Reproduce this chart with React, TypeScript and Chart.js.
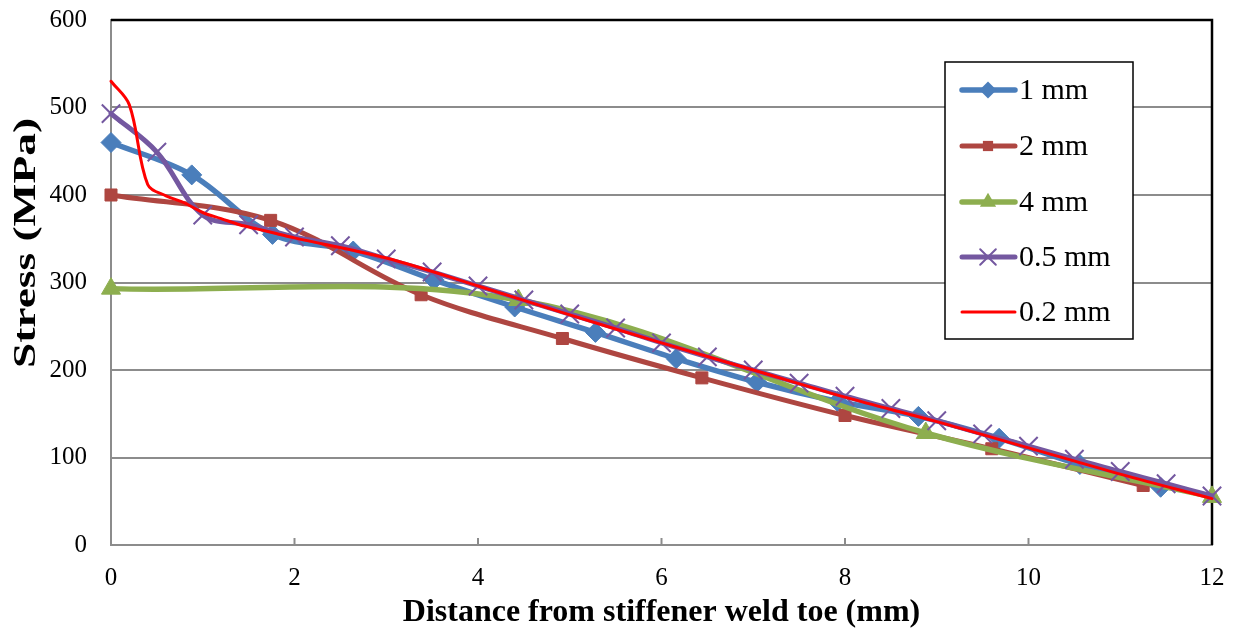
import React, { useEffect, useRef } from 'react';
import { Chart, registerables } from 'chart.js';
Chart.register(...registerables);

// ---- data ----
const x1mm = [0, 0.88, 1.76, 2.64, 3.52, 4.4, 5.28, 6.16, 7.04, 7.92, 8.8, 9.68, 10.56, 11.44];
const y1mm = [460, 423, 355, 336, 303, 272, 243, 213, 186, 164, 147, 122, 92, 66];

const x2mm = [0, 1.74, 3.38, 4.92, 6.44, 8.0, 9.6, 11.25];
const y2mm = [400, 371, 286, 236, 191, 148, 110, 68];

const x4mm = [0, 4.44, 8.88, 12];
const y4mm = [293, 280, 128, 55];

const x05mm = [0, 0.5, 1, 1.5, 2, 2.5, 3, 3.5, 4, 4.5, 5, 5.5, 6, 6.5, 7, 7.5, 8, 8.5, 9, 9.5, 10, 10.5, 11, 11.5, 12];
const y05mm = [493, 449, 377, 366, 352, 342, 327, 312, 296, 280, 264, 248, 231, 215, 200, 185, 170, 156, 142, 127, 113, 98, 84, 70, 56];

const x02mm = [0, 0.2, 0.4, 0.6, 0.8, 1.0, 1.2, 1.4, 1.6, 1.8, 2, 3, 4, 5, 6, 7, 8, 9, 10, 11, 12];
const y02mm = [530, 503, 412, 399, 391, 380, 373, 366, 361, 356, 351, 328, 296, 263, 231, 200, 169, 141, 111, 81, 53];

const seriesLabels = ['1 mm', '2 mm', '4 mm', '0.5 mm', '0.2 mm'];
const xTicks = [0, 2, 4, 6, 8, 10, 12];

const xTitle = 'Distance from stiffener weld toe (mm)';
const yTitle = 'Stress (MPa)';

const FONT = "'Liberation Serif', 'Times New Roman', serif";
const BLUE = '#4A7EBB';
const BROWN = '#AE4641';
const GREEN = '#8DAE4F';
const PURPLE = '#7458A0';
const RED = '#FF0000';
const GRID = '#8C8C8C';

const toPts = (xs: number[], ys: number[]) => xs.map((x, i) => ({ x, y: ys[i] }));

function drawMarker(ctx: CanvasRenderingContext2D, style: string, x: number, y: number, r: number, color: string) {
  ctx.save();
  ctx.fillStyle = color;
  ctx.strokeStyle = color;
  ctx.beginPath();
  if (style === 'rectRot') {
    ctx.moveTo(x, y - r); ctx.lineTo(x + r, y); ctx.lineTo(x, y + r); ctx.lineTo(x - r, y); ctx.closePath(); ctx.fill();
  } else if (style === 'rect') {
    const s = r * Math.SQRT1_2;
    ctx.rect(x - s, y - s, 2 * s, 2 * s); ctx.fill();
  } else if (style === 'triangle') {
    ctx.moveTo(x, y - r);
    ctx.lineTo(x + r * Math.cos(Math.PI / 6), y + r * 0.5);
    ctx.lineTo(x - r * Math.cos(Math.PI / 6), y + r * 0.5);
    ctx.closePath(); ctx.fill();
  } else if (style === 'crossRot') {
    const s = r * Math.SQRT1_2;
    ctx.lineWidth = 2;
    ctx.moveTo(x - s, y - s); ctx.lineTo(x + s, y + s);
    ctx.moveTo(x - s, y + s); ctx.lineTo(x + s, y - s);
    ctx.stroke();
  }
  ctx.restore();
}

const decorPlugin = {
  id: 'decor',
  beforeDatasetsDraw(chart: any) {
    const { ctx, chartArea: a, scales } = chart;
    ctx.save();
    ctx.strokeStyle = GRID;
    ctx.lineWidth = 2;
    xTicks.forEach((t) => {
      if (t === 0 || t === 12) return;
      const px = scales.x.getPixelForValue(t);
      ctx.beginPath(); ctx.moveTo(px, a.bottom); ctx.lineTo(px, a.bottom - 7); ctx.stroke();
    });
    ctx.strokeStyle = '#000';
    ctx.lineWidth = 2.5;
    ctx.beginPath();
    ctx.moveTo(a.left, a.top); ctx.lineTo(a.right, a.top); ctx.lineTo(a.right, a.bottom);
    ctx.stroke();
    ctx.restore();
  },
  afterDraw(chart: any) {
    const { ctx } = chart;
    ctx.save();
    ctx.font = `bold 31px ${FONT}`;
    const w = ctx.measureText(yTitle).width;
    ctx.translate(27, 243);
    ctx.rotate(-Math.PI / 2);
    ctx.scale(250 / w, 1);
    ctx.fillStyle = '#000';
    ctx.textAlign = 'center';
    ctx.textBaseline = 'middle';
    ctx.fillText(yTitle, 0, 0);
    ctx.restore();

    ctx.save();
    const bx = 945, by = 62, bw = 188, bh = 277;
    ctx.fillStyle = '#fff';
    ctx.fillRect(bx, by, bw, bh);
    ctx.strokeStyle = '#000';
    ctx.lineWidth = 1.5;
    ctx.strokeRect(bx, by, bw, bh);
    const rows = [90, 146, 202, 257, 312];
    chart.data.datasets.forEach((ds: any, i: number) => {
      const y = rows[i];
      ctx.strokeStyle = ds.borderColor;
      ctx.lineWidth = ds.borderWidth;
      ctx.lineCap = 'round';
      ctx.beginPath(); ctx.moveTo(962, y); ctx.lineTo(1015, y); ctx.stroke();
      if (ds.pointRadius > 0) drawMarker(ctx, ds.pointStyle, 988, y, ds.pointRadius * 0.85, ds.pointBorderColor);
      ctx.fillStyle = '#000';
      ctx.font = `30px ${FONT}`;
      ctx.textAlign = 'left';
      ctx.textBaseline = 'middle';
      ctx.fillText(ds.label, 1019, y + 1);
    });
    ctx.restore();
  },
};

export default function App() {
  const ref = useRef<HTMLCanvasElement>(null);
  useEffect(() => {
    if (!ref.current) return;
    const common = { tension: 0.35, clip: false as any, borderCapStyle: 'round', borderJoinStyle: 'round', pointHoverRadius: 0 };
    const chart = new Chart(ref.current, {
      type: 'line',
      data: {
        datasets: [
          { ...common, label: seriesLabels[0], data: toPts(x1mm, y1mm), borderColor: BLUE, backgroundColor: BLUE, borderWidth: 5.5, pointStyle: 'rectRot', pointRadius: 10, pointBackgroundColor: BLUE, pointBorderColor: BLUE, pointBorderWidth: 1, order: 5 },
          { ...common, label: seriesLabels[1], data: toPts(x2mm, y2mm), borderColor: BROWN, backgroundColor: BROWN, borderWidth: 5, pointStyle: 'rect', pointRadius: 8.5, pointBackgroundColor: BROWN, pointBorderColor: BROWN, pointBorderWidth: 1, order: 4 },
          { ...common, label: seriesLabels[2], data: toPts(x4mm, y4mm), borderColor: GREEN, backgroundColor: GREEN, borderWidth: 5.5, pointStyle: 'triangle', pointRadius: 11, pointBackgroundColor: GREEN, pointBorderColor: GREEN, pointBorderWidth: 1, order: 3 },
          { ...common, label: seriesLabels[3], data: toPts(x05mm, y05mm), borderColor: PURPLE, backgroundColor: PURPLE, borderWidth: 5, pointStyle: 'crossRot', pointRadius: 13, pointBackgroundColor: PURPLE, pointBorderColor: PURPLE, pointBorderWidth: 2, order: 2 },
          { ...common, label: seriesLabels[4], data: toPts(x02mm, y02mm), borderColor: RED, backgroundColor: RED, borderWidth: 3, pointRadius: 0, pointBorderColor: RED, order: 1 },
        ] as any,
      },
      options: {
        animation: false,
        responsive: false,
        maintainAspectRatio: false,
        layout: { padding: { top: 20, right: 21, left: 0, bottom: 0 } },
        plugins: { legend: { display: false }, tooltip: { enabled: false } },
        events: [],
        scales: {
          x: {
            type: 'linear', min: 0, max: 12,
            afterBuildTicks: (s: any) => { s.ticks = xTicks.map((v) => ({ value: v })); },
            ticks: { color: '#000', font: { family: FONT, size: 25 }, padding: 18, maxRotation: 0, autoSkip: false },
            grid: { drawOnChartArea: false, drawTicks: false },
            border: { color: GRID, width: 2 },
            title: { display: true, text: xTitle, color: '#000', font: { family: FONT, size: 32, weight: 'bold' }, padding: { top: 0, bottom: -1 } },
            afterFit: (s: any) => { s.height = 86; s.paddingLeft = 0; s.paddingRight = 0; },
          },
          y: {
            min: 0, max: 600,
            ticks: { stepSize: 100, color: '#000', font: { family: FONT, size: 25 }, padding: 24 },
            grid: { color: GRID, lineWidth: 2, drawTicks: false },
            border: { color: GRID, width: 2 },
            afterFit: (s: any) => { s.width = 111; s.paddingTop = 0; s.paddingBottom = 0; },
          },
        },
      } as any,
      plugins: [decorPlugin],
    });
    return () => chart.destroy();
  }, []);
  return (
    <div style={{ position: 'absolute', left: 0, top: 0, width: 1233, height: 631, background: '#fff' }}>
      <canvas ref={ref} width={1233} height={631} style={{ display: 'block' }} />
    </div>
  );
}
